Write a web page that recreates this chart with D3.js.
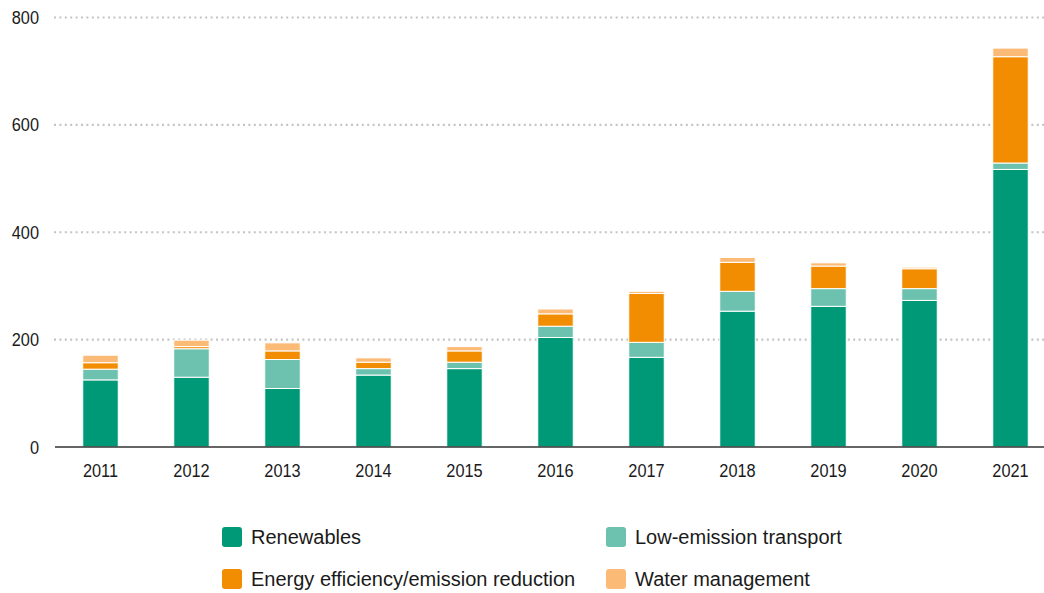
<!DOCTYPE html>
<html>
<head>
<meta charset="utf-8">
<script src="https://cdn.jsdelivr.net/npm/d3@7"></script>
<style>
  body { margin: 0; background: #fff; }
  text { font-family: "Liberation Sans", Arial, sans-serif; fill: #1a1a1a; }
</style>
</head>
<body>
<div id="chart"></div>
<script>
const years = ['2011', '2012', '2013', '2014', '2015', '2016', '2017', '2018', '2019', '2020', '2021'];
const renewables = [125, 130, 109, 134, 146, 204, 167, 253, 262, 273, 517];
const transport = [20, 53, 54, 12, 12, 21, 28, 37, 33, 22, 12];
const efficiency = [12, 4, 16, 12, 21, 23, 91, 54, 42, 37, 198];
const water = [14, 12, 15, 8, 8, 9, 4, 9, 6, 3, 16];
const yTicks = [0, 200, 400, 600, 800];

const seriesNames = ['Renewables', 'Low-emission transport', 'Energy efficiency/emission reduction', 'Water management'];
const seriesColors = ['#009977', '#6cc2ae', '#f28c00', '#fbbb77'];

const width = 1044, height = 593;

const table = years.map((y, i) => ({
  year: y,
  'Renewables': renewables[i],
  'Low-emission transport': transport[i],
  'Energy efficiency/emission reduction': efficiency[i],
  'Water management': water[i],
}));

const stack = d3.stack().keys(seriesNames)(table);

const x = d3.scaleBand()
  .domain(years)
  .range([55, 1056])
  .paddingInner(0.61)
  .paddingOuter(0.305);

const y = d3.scaleLinear()
  .domain([0, 800])
  .range([447, 17.5]);

const color = d3.scaleOrdinal().domain(seriesNames).range(seriesColors);

const svg = d3.select('#chart').append('svg')
  .attr('width', width)
  .attr('height', height)
  .attr('viewBox', [0, 0, width, height]);

// dotted gridlines
svg.append('g')
  .selectAll('line')
  .data(yTicks.filter(d => d > 0))
  .join('line')
    .attr('x1', 54)
    .attr('x2', width)
    .attr('y1', d => y(d))
    .attr('y2', d => y(d))
    .attr('stroke', '#c4c4c4')
    .attr('stroke-width', 2.2)
    .attr('stroke-dasharray', '2,3.4');

// y labels (narrowed to look condensed)
svg.append('g')
  .attr('transform', 'translate(39,0)')
  .call(d3.axisLeft(y).tickValues(yTicks).tickSize(0).tickPadding(0))
  .call(g => g.select('.domain').remove())
  .call(g => g.selectAll('text')
    .attr('font-size', 19)
    .attr('font-family', null)
    .attr('fill', '#1a1a1a')
    .attr('transform', 'scale(0.86,1)'));

// bars
svg.append('g')
  .selectAll('g')
  .data(stack)
  .join('g')
    .attr('fill', d => color(d.key))
  .selectAll('rect')
  .data(d => d)
  .join('rect')
    .attr('x', d => x(d.data.year))
    .attr('y', d => y(d[1]))
    .attr('width', x.bandwidth())
    .attr('height', d => y(d[0]) - y(d[1]))
    .attr('stroke', '#fff')
    .attr('stroke-width', 1);

// baseline + x labels
svg.append('g')
  .attr('transform', `translate(0,${y(0)})`)
  .call(d3.axisBottom(x).tickSize(0).tickPadding(17))
  .call(g => g.select('.domain')
    .attr('d', `M55,0H${width}`)
    .attr('stroke', '#333')
    .attr('stroke-width', 1.5))
  .call(g => g.selectAll('text')
    .attr('font-size', 19)
    .attr('font-family', null)
    .attr('fill', '#1a1a1a')
    .attr('transform', 'scale(0.86,1)'));

// legend
const legendPos = [[222, 527], [606, 527], [222, 569], [606, 569]];
const legend = svg.append('g')
  .selectAll('g')
  .data(seriesNames)
  .join('g')
    .attr('transform', (d, i) => `translate(${legendPos[i][0]},${legendPos[i][1]})`);

legend.append('rect')
  .attr('width', 20)
  .attr('height', 20)
  .attr('rx', 3)
  .attr('fill', d => color(d));

legend.append('text')
  .attr('x', 29)
  .attr('y', 10)
  .attr('dy', '0.36em')
  .attr('font-size', 20)
  .text(d => d);
</script>
</body>
</html>
